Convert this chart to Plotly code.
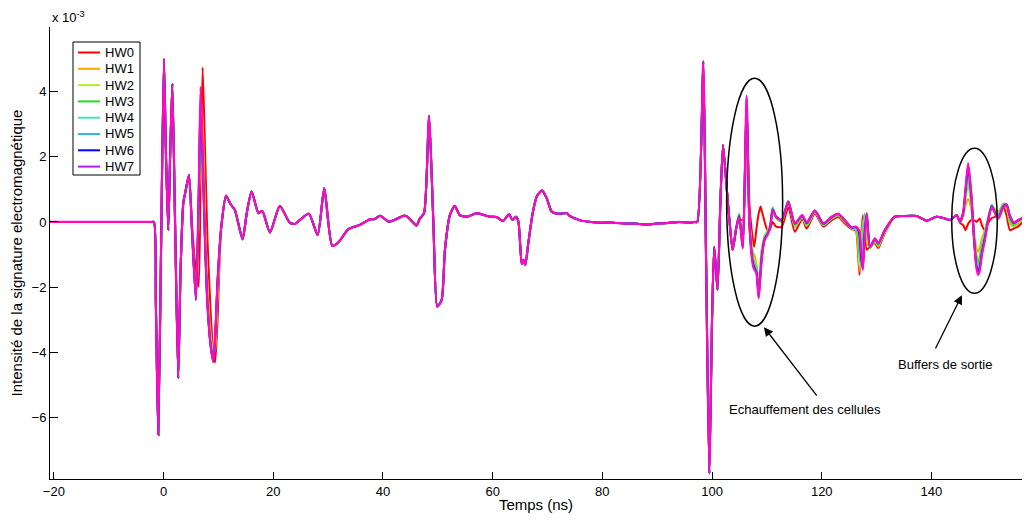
import plotly.graph_objects as go

# ---------------- data (values in units of 1e-3) ----------------
names = ["HW0", "HW1", "HW2", "HW3", "HW4", "HW5", "HW6", "HW7"]
colors = ["#FF0000", "#FFA500", "#B4F02A", "#22DD22", "#3EE8B0", "#33B5F0", "#0000FF", "#B020F0"]
hw7_line_color = "#FF0AC0"

# common waveform (shared by all HW outside the divergence windows)
base_t = [-21.0, -17.0, -13.0, -9.0, -6.0, -4.0, -2.8, -2.2, -1.75, -1.4, -0.97, -0.45, 0.07, 0.45, 0.86,
          1.2, 1.6, 2.1, 2.68, 3.1, 3.6, 4.0, 4.63,
          10.5, 11.4, 12.2, 13.0, 14.4, 15.2, 16.06, 17.3, 18.0, 19.4, 21.2, 23.0, 24.0, 24.7, 26.5,
          28.1, 29.3, 30.75, 31.85, 33.7, 35.8, 37.6, 38.5, 39.5, 41.1, 43.8, 44.3, 45.2, 46.1, 46.75,
          47.5, 48.4, 49.2, 49.9, 50.7, 51.3, 52.2, 53.1, 54.0, 55.3, 57.1, 59.5, 60.7, 61.9, 63.0,
          63.6, 64.25, 64.7, 65.3, 65.6, 65.95, 66.5, 67.3, 68.1, 69.0, 69.85, 70.75, 71.95, 73.5,
          74.1, 76.0, 78.0, 80.0, 82.0, 84.0, 86.0, 88.0, 90.0, 92.0, 94.0, 96.0, 96.8, 97.3, 98.4, 98.9,
          99.5, 100.0, 100.4, 101.0, 101.5, 102.0, 102.65, 103.2, 103.75, 104.4,
          133.3, 135.0, 137.3, 139.1, 140.9, 142.2, 143.4, 144.6]
base_v = [0.0, 0.0, 0.0, 0.0, 0.0, 0.0, 0.0, 0.0, 0.0, -2.5, -6.52, -0.8, 4.99, 2.0, -0.25,
          2.0, 4.23, 0.0, -4.78, -1.5, 0.58, 0.93, 1.44,
          -0.2, 0.8, 0.55, 0.37, -0.53, 0.3, 0.93, 0.27, 0.34, -0.32, 0.49, -0.02, -0.06, 0.04, 0.25,
          -0.4, 1.03, -0.73, -0.63, -0.22, -0.09, 0.08, 0.09, 0.19, 0.01, 0.19, 0.18, 0.04, -0.11, 0.11,
          0.27, 3.25, -0.03, -2.59, -2.39, -0.86, 0.21, 0.49, 0.21, 0.16, 0.27, 0.16, 0.15, 0.03, 0.24,
          0.06, 0.16, 0.01, -1.29, -1.16, -1.32, -0.65, 0.27, 0.8, 0.96, 0.73, 0.32, 0.25, 0.27,
          0.18, 0.05, 0.0, -0.02, -0.02, -0.05, -0.05, -0.08, -0.05, -0.03, 0.0, -0.02, 0.0, 0.0, 4.91, -1.0,
          -7.7, -3.0, -0.76, -2.08, 0.5, 2.36, 1.08, 0.0, -0.86, -0.2,
          0.16, 0.18, 0.18, 0.04, 0.16, 0.12, 0.06, 0.21]

# window A (t 5.2 - 9.8 ns)
win_a_t = [5.2, 5.9, 6.4, 6.76, 7.13, 7.6, 8.0, 8.6, 9.07, 9.4, 9.8]
win_a_v = [
    [-0.1, -1.5, -1.98, 1.5, 4.73, 2.0, -0.5, -2.8, -4.0, -4.3, -3.2],     # HW0
    [-0.25, -2.2, 0.2, 3.4, 3.0, 0.0, -2.0, -3.4, -4.0, -3.9, -2.5],       # HW1
    [-0.3, -2.3, 0.4, 2.8, 1.9, -0.6, -2.3, -3.6, -4.0, -3.7, -2.2],       # HW2
    [-0.3, -2.35, 0.4, 2.6, 1.7, -0.7, -2.4, -3.7, -4.1, -3.6, -2.0],      # HW3
    [-0.3, -2.37, 0.5, 3.1, 1.8, -0.8, -2.5, -3.8, -4.2, -3.6, -2.0],      # HW4
    [-0.3, -2.38, 0.6, 3.5, 1.9, -0.8, -2.5, -3.8, -4.25, -3.6, -2.0],     # HW5
    [-0.3, -2.39, 0.7, 3.9, 2.0, -0.8, -2.5, -3.8, -4.28, -3.6, -2.0],     # HW6
    [-0.3, -2.39, 0.8, 4.14, 2.0, -0.8, -2.5, -3.8, -4.28, -3.6, -2.0],    # HW7
]

# window B (t 104.95 - 125.45 ns)
win_b_t = [104.95, 105.6, 106.3, 106.8, 107.2, 107.5, 107.7, 108.1, 108.5, 108.85, 109.05, 109.6,
           110.1, 110.6, 111.05, 111.65, 112.7, 113.9, 115.1, 116.45, 117.25, 118.75, 120.3, 121.8,
           123.0, 124.2, 125.45]
win_b_v = [
    [0.08, 0.05, 3.5, 0.6, -0.2, -0.6, -0.76, -0.2, 0.25, 0.47, 0.35, 0.0, -0.25, -0.2, 0.0, -0.14,
     -0.15, 0.45, -0.3, 0.1, -0.2, 0.25, -0.14, 0.05, 0.15, -0.05, -0.22],
    [0.25, -0.6, 3.55, 0.1, -0.6, -0.95, -1.0, -1.3, -1.87, -1.2, -0.85, -0.42, -0.3, -0.08, 0.42,
     0.12, 0.0, 0.62, -0.15, 0.15, -0.12, 0.3, -0.1, 0.1, 0.2, 0.0, -0.2],
    [0.25, -0.68, 3.6, 0.06, -0.72, -1.05, -1.15, -1.35, -2.0, -1.3, -0.9, -0.44, -0.3, -0.1, 0.44,
     0.14, 0.02, 0.64, -0.12, 0.16, -0.1, 0.31, -0.09, 0.11, 0.21, 0.02, -0.19],
    [0.24, -0.72, 3.65, 0.04, -0.8, -1.15, -1.25, -1.4, -2.15, -1.4, -0.95, -0.46, -0.32, -0.12, 0.44,
     0.15, 0.03, 0.65, -0.1, 0.17, -0.08, 0.32, -0.08, 0.12, 0.22, 0.03, -0.19],
    [0.22, -0.75, 3.7, 0.02, -0.85, -1.2, -1.3, -1.45, -2.2, -1.45, -1.0, -0.48, -0.34, -0.14, 0.42,
     0.16, 0.04, 0.64, -0.08, 0.18, -0.06, 0.33, -0.07, 0.13, 0.23, 0.04, -0.18],
    [0.2, -0.78, 3.75, 0.0, -0.9, -1.25, -1.35, -1.5, -2.25, -1.5, -1.05, -0.5, -0.36, -0.16, 0.4,
     0.17, 0.05, 0.63, -0.06, 0.19, -0.04, 0.34, -0.06, 0.14, 0.24, 0.05, -0.18],
    [0.18, -0.8, 3.8, 0.0, -0.95, -1.3, -1.4, -1.55, -2.3, -1.55, -1.1, -0.52, -0.38, -0.18, 0.38,
     0.17, 0.06, 0.62, -0.05, 0.2, -0.03, 0.35, -0.05, 0.15, 0.25, 0.05, -0.17],
    [0.16, -0.81, 3.86, 0.0, -1.0, -1.37, -1.45, -1.57, -2.34, -1.6, -1.16, -0.55, -0.4, -0.2, 0.37,
     0.16, 0.06, 0.62, -0.04, 0.21, -0.02, 0.35, -0.04, 0.16, 0.25, 0.06, -0.17],
]

# window C (t 126.2 - 131.5 ns)
win_c_t = [126.2, 126.6, 126.9, 127.2, 127.5, 127.8, 128.2, 128.8, 129.7, 130.3, 131.5]
win_c_v = [
    [-0.25, -0.9, -1.62, -0.4, 0.2, -0.2, -0.85, -0.75, -0.65, -0.8, -0.35],
    [-0.22, -0.7, -1.5, -0.8, 0.0, 0.1, -0.6, -0.78, -0.6, -0.75, -0.32],
    [-0.2, -0.5, -1.3, -1.1, -0.3, 0.2, -0.3, -0.8, -0.58, -0.72, -0.3],
    [-0.18, -0.4, -1.0, -1.3, -0.6, 0.25, -0.1, -0.8, -0.56, -0.7, -0.28],
    [-0.17, -0.3, -0.7, -1.4, -0.9, 0.2, 0.1, -0.78, -0.54, -0.68, -0.27],
    [-0.16, -0.25, -0.5, -1.3, -1.2, -0.1, 0.2, -0.77, -0.52, -0.67, -0.26],
    [-0.15, -0.22, -0.4, -1.1, -1.4, -0.4, 0.25, -0.76, -0.51, -0.66, -0.25],
    [-0.14, -0.2, -0.3, -0.9, -1.47, -0.6, 0.27, -0.76, -0.5, -0.65, -0.25],
]

# window D (t 145.2 - 158 ns)
win_d_t = [145.2, 145.8, 146.2, 146.7, 147.3, 147.8, 148.2, 148.5, 148.8, 149.2, 149.75, 150.3,
           151.0, 151.6, 152.2, 153.1, 153.7, 154.3, 155.0, 155.8, 156.7, 158.0]
win_d_v = [
    [-0.03, -0.1, -0.25, -0.05, 0.06, 0.05, 0.0, 0.05, 0.11, -0.1, -0.25, -0.05, 0.12, 0.16, 0.3,
     0.47, 0.2, -0.25, -0.2, -0.14, 0.0, 0.14],
    [-0.01, 0.18, 0.5, 0.7, 0.35, -0.35, -0.8, -0.91, -0.8, -0.5, -0.25, 0.1, 0.45, 0.38, 0.3,
     0.55, 0.42, -0.05, -0.15, -0.05, 0.08, 0.15],
    [0.0, 0.22, 0.7, 1.1, 0.5, -0.45, -1.0, -1.16, -1.0, -0.62, -0.3, 0.1, 0.5, 0.36, 0.25,
     0.57, 0.5, 0.02, -0.12, 0.0, 0.1, 0.15],
    [0.0, 0.25, 0.8, 1.35, 0.6, -0.5, -1.1, -1.27, -1.12, -0.72, -0.35, 0.08, 0.52, 0.34, 0.2,
     0.55, 0.55, 0.08, -0.1, 0.02, 0.1, 0.15],
    [0.0, 0.27, 0.85, 1.5, 0.65, -0.55, -1.2, -1.39, -1.25, -0.82, -0.4, 0.06, 0.52, 0.32, 0.16,
     0.52, 0.55, 0.12, -0.07, 0.03, 0.11, 0.15],
    [0.01, 0.28, 0.9, 1.62, 0.7, -0.58, -1.3, -1.49, -1.35, -0.9, -0.45, 0.04, 0.5, 0.3, 0.14,
     0.5, 0.54, 0.15, -0.05, 0.04, 0.12, 0.15],
    [0.01, 0.3, 0.95, 1.72, 0.75, -0.6, -1.35, -1.55, -1.42, -0.95, -0.5, 0.02, 0.48, 0.28, 0.12,
     0.47, 0.53, 0.18, -0.03, 0.05, 0.12, 0.15],
    [0.01, 0.3, 1.0, 1.8, 0.8, -0.6, -1.4, -1.62, -1.5, -1.0, -0.55, 0.0, 0.47, 0.27, 0.1,
     0.45, 0.52, 0.2, -0.02, 0.06, 0.12, 0.15],
]

x_ticks = [-20, 0, 20, 40, 60, 80, 100, 120, 140]
y_ticks = [-6, -4, -2, 0, 2, 4]

# ---------------- build traces ----------------
windows = [(win_a_t, win_a_v), (win_b_t, win_b_v), (win_c_t, win_c_v), (win_d_t, win_d_v)]


def series(i):
    pts = []
    for t, v in zip(base_t, base_v):
        if any(wt[0] <= t <= wt[-1] for wt, _ in windows):
            continue
        pts.append((t, v))
    for wt, wv in windows:
        pts.extend(zip(wt, wv[i]))
    pts.sort()
    return [p[0] for p in pts], [p[1] for p in pts]


FONT = "Liberation Sans, Arial, Helvetica, sans-serif"
fig = go.Figure()
for i, name in enumerate(names):
    xs, ys = series(i)
    is_last = (i == len(names) - 1)
    fig.add_trace(go.Scatter(
        x=xs, y=ys, mode="lines", name=name, showlegend=False,
        line=dict(color=hw7_line_color if is_last else colors[i], width=2.2 if is_last else 2,
                  shape="spline", smoothing=0.6),
    ))

# ---- page geometry (browser body has an 8px margin on every side) ----
OFF = 8
FIG_W, FIG_H = 1030 - 2 * OFF, 521 - 2 * OFF
PX_L, PX_T, PX_B = 50, 27, 479               # plot area edges in page pixels
PX_R = OFF + FIG_W                            # right edge of the plot area
PX_PER_NS = 5.485
X_MIN = -20.7
X_MAX = X_MIN + (PX_R - PX_L) / PX_PER_NS


def px2paper(px, py):
    return (px - PX_L) / (PX_R - PX_L), (PX_B - py) / (PX_B - PX_T)


# manual legend (box, swatches, labels)
bx0, by0 = px2paper(73, 175)
bx1, by1 = px2paper(140, 42)
fig.add_shape(type="rect", xref="paper", yref="paper", x0=bx0, x1=bx1, y0=by0, y1=by1,
              line=dict(color="black", width=1), fillcolor="white", layer="above")
for k, name in enumerate(names):
    py = 52.5 + 16.3 * k
    lx0, ly = px2paper(78, py)
    lx1, _ = px2paper(100, py)
    fig.add_shape(type="line", xref="paper", yref="paper", x0=lx0, x1=lx1, y0=ly, y1=ly,
                  line=dict(color=colors[k], width=2), layer="above")
    tx, _ = px2paper(103, py)
    fig.add_annotation(x=tx, y=ly, xref="paper", yref="paper", xanchor="left", yanchor="middle",
                       text=name, showarrow=False, font=dict(family="Liberation Sans, Arial", size=13, color="black"))

# ellipses and annotations
fig.add_shape(type="circle", xref="x", yref="y", x0=102.66, x1=112.87, y0=-3.19, y1=4.40,
              line=dict(color="black", width=1.5))
fig.add_shape(type="circle", xref="x", yref="y", x0=143.7, x1=152.0, y0=-2.18, y1=2.26,
              line=dict(color="black", width=1.5))
fig.add_annotation(x=109.46, y=-3.22, ax=119.3, ay=-5.36, xref="x", yref="y", axref="x", ayref="y",
                   text="", showarrow=True, arrowhead=2, arrowsize=1.4, arrowwidth=1.3, arrowcolor="black")
fig.add_annotation(x=145.56, y=-2.24, ax=140.6, ay=-3.92, xref="x", yref="y", axref="x", ayref="y",
                   text="", showarrow=True, arrowhead=2, arrowsize=1.4, arrowwidth=1.3, arrowcolor="black")
fig.add_annotation(x=116.9, y=-5.73, xref="x", yref="y", text="Echauffement des cellules",
                   showarrow=False, font=dict(family=FONT, size=13, color="black"))
fig.add_annotation(x=142.5, y=-4.35, xref="x", yref="y", text="Buffers de sortie",
                   showarrow=False, font=dict(family=FONT, size=13, color="black"))
fig.add_annotation(x=0, y=1, xref="paper", yref="paper", xanchor="left", yanchor="bottom",
                   text="x 10<sup>-3</sup>", showarrow=False, yshift=0,
                   font=dict(family=FONT, size=13, color="black"))

fig.update_layout(
    width=FIG_W, height=FIG_H,
    margin=dict(l=PX_L - OFF, r=0, t=PX_T - OFF, b=FIG_H + OFF - PX_B, autoexpand=False),
    paper_bgcolor="white", plot_bgcolor="white",
    font=dict(family=FONT, size=13, color="black"),
    showlegend=False,
    xaxis=dict(range=[X_MIN, X_MAX], tickvals=x_ticks, ticks="inside", ticklen=7, tickcolor="black",
               showline=True, linecolor="black", linewidth=1, showgrid=False, zeroline=False,
               title=dict(text="Temps (ns)", font=dict(family=FONT, size=15), standoff=1),
               tickfont=dict(family=FONT, size=13)),
    yaxis=dict(range=[-7.87, 5.97], tickvals=y_ticks, ticks="inside", ticklen=8, tickcolor="black",
               showline=True, linecolor="black", linewidth=1, showgrid=False, zeroline=False,
               title=dict(text="Intensité de la signature electromagnétique", font=dict(family=FONT, size=15),
                          standoff=6),
               tickfont=dict(family=FONT, size=13)),
)

fig.write_html("out.html")
